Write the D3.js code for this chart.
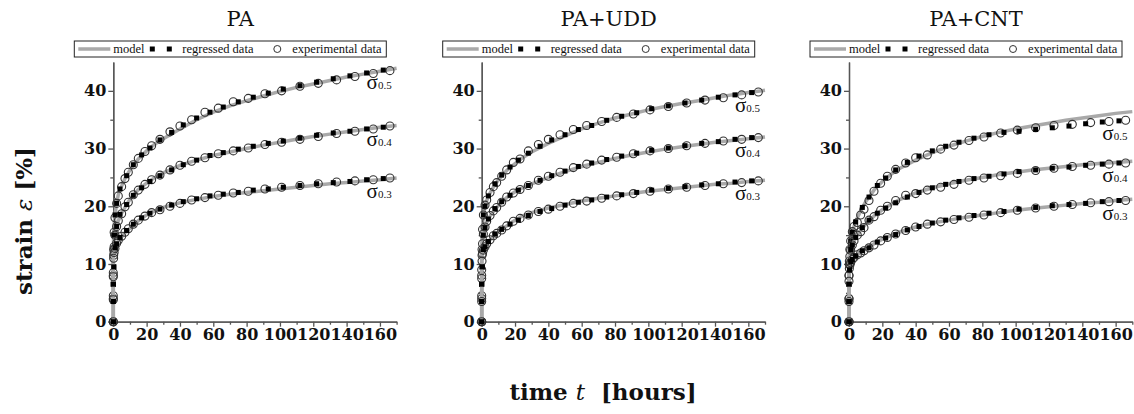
<!DOCTYPE html>
<html>
<head>
<meta charset="utf-8">
<script src="https://cdn.jsdelivr.net/npm/d3@7"></script>
<style>
  body { margin: 0; background: #fff; }
  svg { display: block; }
  .tick text { font-family: "DejaVu Serif", serif; font-weight: bold; font-size: 16px; fill: #111; }
  .domain, .tick line { stroke: #555; stroke-width: 1.3; }
</style>
</head>
<body>
<svg width="1134" height="414"></svg>
<script>
var panelTitles = ["PA", "PA+UDD", "PA+CNT"];
var stressLabels = ["0.5", "0.4", "0.3"];
var xTicks = [0, 20, 40, 60, 80, 100, 120, 140, 160];
var yTicks = [0, 10, 20, 30, 40];

// time points (hours)
var modelTimes = [0, 0, 0.3, 1, 2, 3, 5, 7, 10, 15, 20, 25, 30, 40, 50, 60, 70, 80, 90, 100, 110, 120, 130, 140, 150, 160, 170];
var expTimes = [0, 0, 0, 0.2, 0.5, 1, 2, 3, 5, 7, 9, 12, 15, 19, 23, 28, 34, 40, 47, 55, 63, 72, 81, 91, 101, 112, 123, 134, 145, 156, 166];
var regTimes = [0, 0, 0, 0.3, 1, 2, 4, 8, 12, 17, 22, 28, 35, 42, 50, 58, 66, 75, 84, 93, 102, 112, 122, 132, 142, 152, 162];

// strain values [%], one row per stress level (0.5, 0.4, 0.3)
var modelPA = [
  [0, 12, 16, 18.5, 20.5, 22, 23.5, 24.8, 26.3, 28.2, 29.6, 30.8, 31.7, 33.4, 35, 36.3, 37.4, 38.3, 39.1, 39.9, 40.6, 41.2, 41.8, 42.4, 42.9, 43.4, 43.9],
  [0, 12, 13.5, 15, 16.5, 17.5, 18.8, 19.8, 21.2, 22.9, 24, 25, 25.8, 27.1, 28, 28.8, 29.4, 30, 30.6, 31.1, 31.6, 32.1, 32.5, 32.9, 33.3, 33.7, 34],
  [0, 11.5, 12.2, 12.8, 13.5, 14, 14.7, 15.4, 16.2, 17.5, 18.5, 19.2, 19.8, 20.6, 21.2, 21.7, 22.1, 22.4, 22.7, 23, 23.3, 23.6, 23.9, 24.1, 24.4, 24.6, 24.9]
];
var modelUDD = [
  [0, 12, 16, 18.5, 20, 21, 22.3, 23.3, 24.6, 26.2, 27.4, 28.5, 29.4, 30.9, 32.2, 33.4, 34.4, 35.3, 36, 36.7, 37.3, 37.8, 38.3, 38.8, 39.3, 39.7, 40.1],
  [0, 11.5, 13.5, 15, 16.3, 17.2, 18.3, 19.1, 20.1, 21.5, 22.5, 23.3, 23.9, 25, 26, 26.9, 27.6, 28.3, 28.9, 29.4, 29.9, 30.3, 30.7, 31.1, 31.4, 31.7, 32],
  [0, 11, 12, 12.5, 13, 13.5, 14.2, 14.8, 15.5, 16.6, 17.6, 18.4, 18.9, 19.7, 20.3, 20.9, 21.4, 21.8, 22.2, 22.6, 22.9, 23.2, 23.5, 23.8, 24, 24.3, 24.5]
];
var modelCNT = [
  [0, 10, 12.5, 14, 15.5, 16.5, 18, 19.2, 20.8, 22.8, 24.3, 25.5, 26.5, 28, 29.3, 30.4, 31.3, 32.1, 32.8, 33.4, 33.9, 34.4, 34.9, 35.3, 35.7, 36.1, 36.4],
  [0, 10, 11.5, 12.5, 13.3, 14, 15, 15.8, 16.9, 18.3, 19.4, 20.3, 21.1, 22.3, 23.2, 23.9, 24.5, 25, 25.5, 25.9, 26.3, 26.6, 26.9, 27.2, 27.4, 27.6, 27.8],
  [0, 9.5, 10, 10.4, 10.8, 11.1, 11.6, 12, 12.6, 13.5, 14.3, 14.9, 15.5, 16.4, 17.1, 17.6, 18.1, 18.5, 18.9, 19.3, 19.6, 19.9, 20.2, 20.5, 20.7, 21, 21.2]
];

var expPA = [
  [0, 4.5, 8.5, 12.5, 15.5, 18, 20.5, 21.8, 23.4, 24.8, 25.9, 27.2, 28.3, 29.5, 30.5, 31.6, 32.9, 33.9, 35.0, 36.3, 37.0, 38.1, 38.7, 39.5, 40.0, 40.8, 41.3, 41.9, 42.5, 43.0, 43.5],
  [0, 4, 8, 11.5, 13, 15, 16.5, 17.5, 18.7, 19.9, 20.7, 22.0, 22.8, 23.8, 24.6, 25.4, 26.3, 27.1, 27.8, 28.4, 29.1, 29.6, 30.1, 30.7, 31.1, 31.6, 32.1, 32.6, 33.0, 33.4, 33.9],
  [0, 3.8, 7.8, 11, 12, 12.7, 13.6, 14.1, 14.8, 15.5, 16.1, 16.9, 17.6, 18.3, 18.9, 19.4, 20.0, 20.5, 21.1, 21.5, 21.9, 22.3, 22.6, 23.0, 23.3, 23.6, 23.9, 24.2, 24.4, 24.6, 24.9]
];
var expUDD = [
  [0, 4.5, 9, 12.5, 16, 18.5, 20.2, 21.1, 22.4, 23.4, 24.1, 25.2, 26.3, 27.6, 28.2, 29.6, 30.7, 31.6, 32.4, 33.3, 34.0, 34.7, 35.4, 36.0, 36.7, 37.3, 37.9, 38.4, 38.8, 39.3, 39.8],
  [0, 4, 8, 11.5, 13.5, 15.2, 16.4, 17.4, 18.4, 19.2, 19.8, 20.7, 21.6, 22.3, 22.9, 23.6, 24.5, 25.2, 25.9, 26.7, 27.3, 28.0, 28.5, 29.1, 29.6, 30.0, 30.5, 30.9, 31.3, 31.6, 31.9],
  [0, 3.5, 7.5, 10.5, 11.8, 12.4, 13.0, 13.5, 14.2, 14.9, 15.3, 15.9, 16.6, 17.4, 17.9, 18.5, 19.1, 19.5, 20.0, 20.5, 20.9, 21.4, 21.8, 22.2, 22.6, 23.0, 23.3, 23.6, 23.9, 24.1, 24.4]
];
var expCNT = [
  [0, 4, 8, 10.5, 12.5, 14, 15.6, 16.5, 17.2, 18.5, 19.5, 21.0, 22.6, 24.0, 25.2, 26.4, 27.5, 28.4, 28.9, 29.9, 30.6, 31.4, 32.0, 32.7, 33.2, 33.6, 34.0, 34.2, 34.5, 34.7, 34.9],
  [0, 4, 8, 10, 11.3, 12.4, 13.3, 14.0, 15.0, 15.6, 16.3, 17.6, 18.2, 19.3, 20.0, 21.0, 21.9, 22.2, 22.8, 23.3, 23.8, 24.5, 24.9, 25.3, 25.7, 26.2, 26.6, 26.9, 27.1, 27.3, 27.5],
  [0, 3.5, 7, 9.2, 9.8, 10.2, 10.8, 11.1, 11.6, 11.9, 12.3, 12.8, 13.3, 14.0, 14.6, 15.2, 15.8, 16.4, 16.9, 17.3, 17.7, 18.1, 18.5, 18.9, 19.3, 19.7, 20.0, 20.3, 20.6, 20.8, 21.0]
];

var regPA = [
  [0, 3.5, 6.5, 15, 18.5, 20.5, 23, 25.3, 27.2, 28.9, 30.1, 31.5, 32.8, 34.1, 35.3, 36.3, 37.2, 38.1, 38.9, 39.6, 40.3, 40.9, 41.5, 42.1, 42.6, 43.1, 43.6],
  [0, 3.5, 6.5, 9.5, 15, 16.5, 18.6, 20.3, 21.9, 23.2, 24.3, 25.3, 26.3, 27.2, 28.0, 28.8, 29.3, 29.9, 30.4, 30.9, 31.3, 31.8, 32.3, 32.7, 33.0, 33.4, 33.7],
  [0, 3.5, 6.5, 9.5, 12.8, 13.5, 14.6, 15.8, 16.9, 18.0, 18.8, 19.5, 20.2, 20.8, 21.3, 21.8, 22.1, 22.4, 22.8, 23.0, 23.3, 23.6, 23.9, 24.1, 24.3, 24.6, 24.8]
];
var regUDD = [
  [0, 3.5, 6.5, 9.5, 18.5, 20, 21.8, 23.9, 25.4, 26.8, 28.0, 29.2, 30.4, 31.5, 32.4, 33.3, 34.0, 34.9, 35.6, 36.2, 36.9, 37.4, 37.9, 38.4, 38.9, 39.3, 39.7],
  [0, 3.5, 6.5, 9.5, 15, 16.3, 17.8, 19.6, 20.8, 21.9, 22.8, 23.6, 24.5, 25.3, 26.1, 26.9, 27.5, 28.1, 28.7, 29.2, 29.7, 30.1, 30.5, 30.9, 31.2, 31.6, 31.9],
  [0, 3.5, 6.5, 9.5, 12.5, 13, 13.9, 15.2, 16.0, 16.9, 17.6, 18.4, 19.1, 19.6, 20.2, 20.7, 21.1, 21.6, 22.0, 22.4, 22.8, 23.1, 23.4, 23.7, 23.9, 24.2, 24.4]
];
var regCNT = [
  [0, 3.5, 6.5, 9.5, 14, 15.5, 17.3, 19.8, 21.6, 23.6, 24.9, 26.3, 27.6, 28.7, 29.6, 30.4, 31.1, 31.8, 32.4, 32.8, 33.0, 33.3, 33.6, 33.9, 34.3, 34.6, 34.8],
  [0, 3.5, 6.5, 9, 12.5, 13.3, 14.6, 16.3, 17.6, 18.8, 19.7, 20.6, 21.6, 22.4, 23.2, 23.8, 24.3, 24.8, 25.2, 25.6, 26.0, 26.3, 26.6, 26.8, 27.1, 27.3, 27.5],
  [0, 3.5, 6.5, 9, 10.4, 10.8, 11.4, 12.3, 12.8, 13.8, 14.5, 15.1, 15.9, 16.5, 17.1, 17.6, 18.0, 18.4, 18.8, 19.1, 19.5, 19.8, 20.1, 20.3, 20.5, 20.8, 21.0]
];

var models = [modelPA, modelUDD, modelCNT];
var exps = [expPA, expUDD, expCNT];
var regs = [regPA, regUDD, regCNT];

var svg = d3.select("svg");
var panelLeft = [113.3, 481.7, 849];
var plotTop = 62, plotW = 283.3, plotH = 259.7;

var x = d3.scaleLinear().domain([0, 170]).range([0, plotW]);
var y = d3.scaleLinear().domain([0, 45]).range([plotH, 0]);

var line = d3.line()
    .x(function(d) { return x(d[0]); })
    .y(function(d) { return y(d[1]); });

panelTitles.forEach(function(title, p) {
  var g = svg.append("g")
      .attr("transform", "translate(" + panelLeft[p] + "," + plotTop + ")");

  // minor ticks
  g.append("g")
      .attr("transform", "translate(0," + plotH + ")")
      .call(d3.axisBottom(x).tickValues(d3.range(10, 171, 20)).tickSize(3).tickFormat("").tickSizeOuter(0));
  g.append("g")
      .call(d3.axisLeft(y).tickValues([5, 15, 25, 35]).tickSize(3).tickFormat("").tickSizeOuter(0));

  g.append("g")
      .attr("transform", "translate(0," + plotH + ")")
      .call(d3.axisBottom(x).tickValues(xTicks).tickSize(5).tickPadding(2).tickSizeOuter(0));
  g.append("g")
      .call(d3.axisLeft(y).tickValues(yTicks).tickSize(5).tickPadding(2).tickSizeOuter(0));

  stressLabels.forEach(function(s, i) {
    var m = modelTimes.map(function(t, k) { return [t, models[p][i][k]]; });
    var e = expTimes.map(function(t, k) { return [t, exps[p][i][k]]; });
    var r = regTimes.map(function(t, k) { return [t, regs[p][i][k]]; });

    g.append("path")
        .datum(m)
        .attr("fill", "none")
        .attr("stroke", "#a9a9a9")
        .attr("stroke-width", 3.5)
        .attr("d", line);

    g.selectAll(null)
        .data(e)
        .enter().append("circle")
        .attr("cx", function(d) { return x(d[0]); })
        .attr("cy", function(d) { return y(d[1]); })
        .attr("r", 4)
        .attr("fill", "none")
        .attr("stroke", "#333")
        .attr("stroke-width", 1.1);

    g.selectAll(null)
        .data(r)
        .enter().append("rect")
        .attr("x", function(d) { return x(d[0]) - 2.5; })
        .attr("y", function(d) { return y(d[1]) - 2.5; })
        .attr("width", 5)
        .attr("height", 5)
        .attr("fill", "#000");

    var last = r[r.length - 1];
    var lab = g.append("text")
        .attr("x", x(152))
        .attr("y", y(last[1]) + 19)
        .attr("font-family", "'Liberation Serif', serif")
        .attr("fill", "#111");
    lab.append("tspan").attr("font-size", "21px").text("σ");
    lab.append("tspan").attr("font-size", "11px").text(s);
  });

  // title
  svg.append("text")
      .attr("x", panelLeft[p] + 127)
      .attr("y", 26)
      .attr("text-anchor", "middle")
      .attr("font-family", "'DejaVu Serif', serif")
      .attr("font-size", "21px")
      .attr("fill", "#111")
      .text(title);

  // legend
  var lg = svg.append("g")
      .attr("transform", "translate(" + (panelLeft[p] - 39) + ",41)");
  lg.append("rect")
      .attr("width", 312).attr("height", 16)
      .attr("fill", "#fff").attr("stroke", "#222").attr("stroke-width", 1);
  lg.append("line")
      .attr("x1", 4).attr("x2", 36).attr("y1", 8).attr("y2", 8)
      .attr("stroke", "#a9a9a9").attr("stroke-width", 3.5);
  lg.selectAll(null).data([78, 95]).enter().append("rect")
      .attr("x", function(d) { return d - 2.5; }).attr("y", 5.5)
      .attr("width", 5).attr("height", 5).attr("fill", "#000");
  lg.append("circle")
      .attr("cx", 203).attr("cy", 8).attr("r", 3.5)
      .attr("fill", "none").attr("stroke", "#333").attr("stroke-width", 1);
  [["model", 39], ["regressed data", 108], ["experimental data", 218]].forEach(function(d) {
    lg.append("text")
        .attr("x", d[1]).attr("y", 12)
        .attr("font-family", "'Liberation Serif', serif")
        .attr("font-size", "12.5px")
        .attr("fill", "#111")
        .text(d[0]);
  });
});

// axis titles
var yl = svg.append("text")
    .attr("transform", "translate(32,221) rotate(-90)")
    .attr("text-anchor", "middle")
    .attr("font-family", "'DejaVu Serif', serif")
    .attr("font-size", "23px")
    .attr("fill", "#111");
yl.append("tspan").attr("font-weight", "bold").text("strain ");
yl.append("tspan").attr("font-style", "italic").text("ε");
yl.append("tspan").attr("font-weight", "bold").text(" [%]");

var xl = svg.append("text")
    .attr("x", 603)
    .attr("y", 400)
    .attr("text-anchor", "middle")
    .attr("font-family", "'DejaVu Serif', serif")
    .attr("font-size", "23px")
    .attr("fill", "#111");
xl.append("tspan").attr("font-weight", "bold").text("time ");
xl.append("tspan").attr("font-style", "italic").text("t");
xl.append("tspan").attr("font-weight", "bold").text("\u00a0\u00a0[hours]");
</script>
</body>
</html>
